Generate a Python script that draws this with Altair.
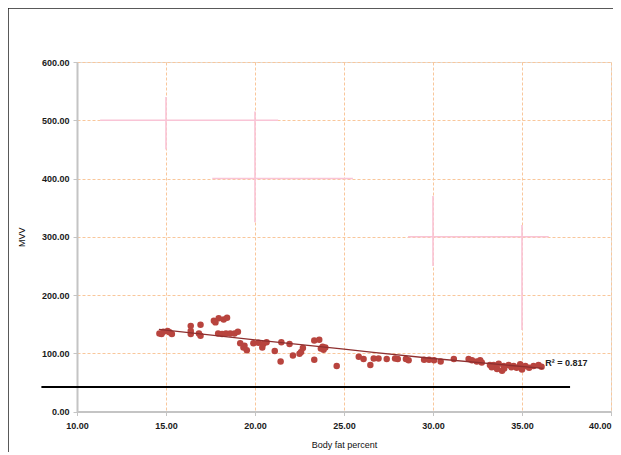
import altair as alt
import pandas as pd

# Scatter data
body_fat = [14.63, 14.85, 15.09, 15.33, 14.75, 15.2,
            16.39, 16.39, 16.39, 16.94, 16.94, 16.85,
            17.69, 17.96, 18.24, 18.43, 17.78,
            17.93, 18.15, 18.37, 18.61, 18.85, 19.04,
            19.17, 19.41, 19.54, 19.35,
            19.91, 20.19, 20.46, 20.65, 20.41,
            21.11, 21.48, 21.44, 21.94, 22.13, 22.59, 22.69, 22.5,
            23.33, 23.61, 23.8, 23.85, 23.7, 23.95,
            23.33, 24.59,
            25.83, 26.1, 26.48, 26.67, 26.94, 27.4, 27.87,
            28.02, 28.48, 28.63,
            29.5, 29.78, 30.06, 30.43,
            31.17,
            32.0, 32.19, 32.46, 32.65, 32.74, 33.2,
            33.41, 33.69, 33.97, 33.88, 34.25, 34.53, 34.9, 35.19, 35.0, 35.65, 35.93, 36.1,
            33.3, 34.0, 34.7, 35.4, 33.6, 34.4]
mvv = [134, 137, 138, 133, 133, 136,
       147, 138, 133, 149, 130, 134,
       156, 160, 158, 161, 153,
       134, 133, 134, 134, 134, 137,
       117, 113, 105, 110,
       117, 118, 116, 119, 110,
       104, 119, 86, 116, 96, 102, 109, 99,
       122, 123, 111, 106, 108, 110,
       89, 78,
       94, 90, 80, 91, 91, 90, 91,
       90, 90, 88,
       89, 89, 88, 86,
       90,
       90, 88, 86, 88, 84, 80,
       80, 82, 78, 70, 80, 78, 81, 78, 72, 78, 80, 77,
       76, 74, 75, 75, 73, 76]

# Trendline
trend_x = [14.6, 20.0, 25.0, 30.0, 36.2]
trend_y = [141, 123, 107, 91, 74]

# Black annotation line
ref_x = [8.0]
ref_x2 = [37.7]
ref_y = [42]

# Faint pink artefact lines (data coords)
pink_h_x = [11.3, 17.6, 28.6]
pink_h_x2 = [21.3, 25.5, 36.5]
pink_h_y = [500, 400, 300]
pink_v_x = [15.0, 20.0, 30.0, 35.0]
pink_v_y = [450, 325, 250, 140]
pink_v_y2 = [540, 515, 370, 320]

r2_label = ["R² = 0.817"]

W, H = 534, 349.5
PL, PT = 69, 54

pts = pd.DataFrame({"x": body_fat, "y": mvv})
trend = pd.DataFrame({"x": trend_x, "y": trend_y})
ref = pd.DataFrame({"x": ref_x, "x2": ref_x2, "y": ref_y})
ph = pd.DataFrame({"x": pink_h_x, "x2": pink_h_x2, "y": pink_h_y})
pv = pd.DataFrame({"x": pink_v_x, "y": pink_v_y, "y2": pink_v_y2})
lab = pd.DataFrame({"x": [36.3], "y": [83], "t": r2_label})

xs = alt.Scale(domain=[10, 40], nice=False, zero=False)
ys = alt.Scale(domain=[0, 600], nice=False)

axis_common = dict(
    format=".2f", labelFlush=False, labelOverlap=False,
    labelFont="Liberation Sans", labelFontSize=9, labelFontWeight="bold", labelColor="#1a1a1a",
    titleFont="Liberation Sans", titleFontSize=9, titleFontWeight="normal", titleColor="#111",
    domainColor="#c4c4c4", domainWidth=2, tickColor="#c4c4c4", tickSize=4,
    gridColor="#f9c79b", gridDash=[3, 2], gridWidth=1, gridOpacity=1,
)

base_x = alt.X("x:Q", scale=xs, title="Body fat percent",
               axis=alt.Axis(values=[10, 15, 20, 25, 30, 35, 40], titlePadding=10, labelPadding=6,
                             labelAlign=alt.ExprRef("datum.value >= 40 ? 'right' : 'center'"),
                             **axis_common))
base_y = alt.Y("y:Q", scale=ys, title="MVV",
               axis=alt.Axis(values=[0, 100, 200, 300, 400, 500, 600], titlePadding=15, labelPadding=4, **axis_common))

points = alt.Chart(pts).mark_circle(size=42, color="#b8443e", opacity=1).encode(x=base_x, y=base_y)

pink_h = alt.Chart(ph).mark_rule(color="#f9c4d6", strokeWidth=1.6).encode(
    x="x:Q", x2="x2:Q", y="y:Q")
pink_v = alt.Chart(pv).mark_rule(color="#f9c4d6", strokeWidth=1.6).encode(
    x="x:Q", y="y:Q", y2="y2:Q")

trend_line = alt.Chart(trend).mark_line(color="#8e2f2f", strokeWidth=1.3, interpolate="monotone").encode(
    x="x:Q", y="y:Q")

ref_line = alt.Chart(ref).mark_rule(color="#000", strokeWidth=2).encode(
    x="x:Q", x2="x2:Q", y="y:Q")

r2 = alt.Chart(lab).mark_text(align="left", baseline="middle", font="Liberation Sans",
                               fontSize=9, fontWeight="bold", color="#222").encode(
    x="x:Q", y="y:Q", text="t:N")

frame_top = alt.Chart(ref).mark_rule(color="#222", strokeWidth=1.5).encode(
    x=alt.value(-PL), x2=alt.value(W + 10), y=alt.value(-PT))
frame_left = alt.Chart(ref).mark_rule(color="#222", strokeWidth=1.5).encode(
    x=alt.value(-PL), y=alt.value(-PT), y2=alt.value(H + 60))

chart = alt.layer(pink_h, pink_v, points, trend_line, ref_line, r2, frame_top, frame_left).properties(
    width=W, height=H,
    autosize=alt.AutoSizeParams(type="none"),
    padding={"left": PL, "top": PT, "right": 2, "bottom": 40},
).configure_view(stroke=None).configure(background="white")

chart.save("out.html", embed_options={"renderer": "svg", "actions": False})
